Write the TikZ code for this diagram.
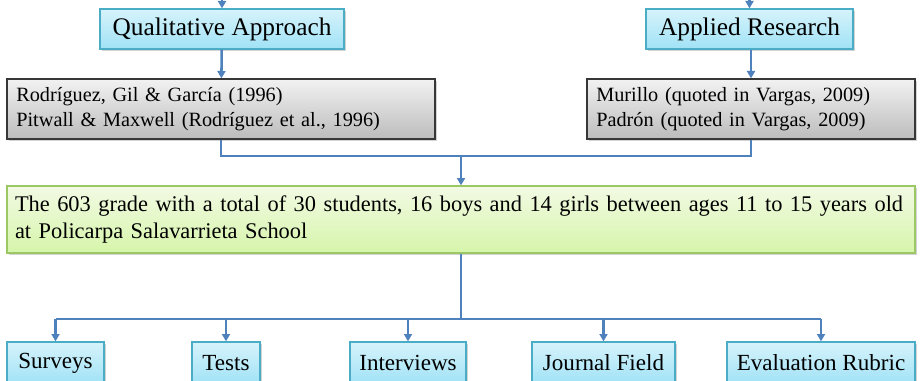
\documentclass[tikz,border=0pt]{standalone}
\usepackage{fontspec}
\setmainfont{Liberation Serif}
\usetikzlibrary{shadows,arrows.meta}
\definecolor{linkblue}{RGB}{79,129,189}
\definecolor{aquaedge}{RGB}{75,172,198}
\definecolor{aquatop}{RGB}{214,243,251}
\definecolor{aquabot}{RGB}{160,226,246}
\definecolor{greyedge}{RGB}{55,55,55}
\definecolor{greytop}{RGB}{242,242,242}
\definecolor{greybot}{RGB}{188,188,188}
\definecolor{limeedge}{RGB}{155,200,100}
\definecolor{limetop}{RGB}{242,250,228}
\definecolor{limebot}{RGB}{214,245,170}
\begin{document}
\begin{tikzpicture}[x=0.75pt,y=0.75pt,yscale=-1,xscale=1,
  aquabox/.style={draw=aquaedge,line width=1pt,top color=aquatop,bottom color=aquabot,
    drop shadow={opacity=0.35,shadow xshift=1.5pt,shadow yshift=-1.5pt},
    inner sep=0pt,minimum height=30pt,font=\fontsize{19}{22}\selectfont},
  toolbox/.style={aquabox,minimum height=31.5pt,font=\fontsize{17.3}{20}\selectfont},
  greybox/.style={draw=greyedge,line width=1pt,top color=greytop,bottom color=greybot,
    drop shadow={opacity=0.35,shadow xshift=1.5pt,shadow yshift=-1.5pt},
    inner sep=0pt,minimum height=45pt,align=left,font=\fontsize{15.2}{18.8}\selectfont},
  limebox/.style={draw=limeedge,line width=1pt,top color=limetop,bottom color=limebot,
    drop shadow={opacity=0.35,shadow xshift=1.5pt,shadow yshift=-1.5pt},
    inner sep=0pt,minimum width=681pt,minimum height=50.25pt,align=left,font=\fontsize{16.8}{20.3}\selectfont},
  link/.style={draw=linkblue,line width=1.9pt},
  linkto/.style={link,-{Triangle[length=5.5pt,width=6pt]}}]

\useasboundingbox (0,0) rectangle (923,381);

% Approach boxes
\node [aquabox,minimum width=183pt] (qual) at (222,29) {Qualitative Approach};
\node [aquabox,minimum width=155.25pt] (appl) at (749.5,29) {Applied Research};
\coordinate (qualin) at (222,0);
\coordinate (applin) at (749.5,0);

% Authors
\node [greybox,minimum width=321pt,text width=307pt] (qualref) at (221,109)
  {Rodríguez, Gil \& García (1996)\\Pitwall \& Maxwell (Rodríguez et al., 1996)};
\node [greybox,minimum width=246pt,text width=232pt] (applref) at (751,109)
  {Murillo (quoted in Vargas, 2009)\\Padrón (quoted in Vargas, 2009)};

% Population
\node [limebox,text width=669pt] (group) at (461,219.5)
  {The 603 grade with a total of 30 students, 16 boys and 14 girls between ages 11 to 15 years old\\at Policarpa Salavarrieta School};

% Instruments
\node [toolbox,minimum width=72.75pt] (surveys) at (55.5,363) {Surveys};
\node [toolbox,minimum width=51pt] (tests) at (226,363) {Tests};
\node [toolbox,minimum width=87pt] (interviews) at (408,363) {Interviews};
\node [toolbox,minimum width=107.25pt] (journal) at (603.5,363) {Journal Field};
\node [toolbox,minimum width=141pt] (rubric) at (821,363) {Evaluation Rubric};

\coordinate (join) at (461,156);
\coordinate (split) at (461,319);

% Connectors
\draw [linkto] (qualin) -- (qual);
\draw [linkto] (applin) -- (appl);
\draw [linkto] (qual) -- (qualref);
\draw [linkto] (appl.south -| applref.north) -- (applref);
\draw [link] (qualref.south) |- (join) -| (applref.south);
\draw [linkto] (join) -- (group);
\draw [link] (group.south) -- (split);
\draw [link] (surveys.north |- split) -- (rubric.north |- split);
\foreach \tool in {surveys,tests,interviews,journal,rubric}
  \draw [linkto] (\tool.north |- split) -- (\tool.north);
\end{tikzpicture}
\end{document}
